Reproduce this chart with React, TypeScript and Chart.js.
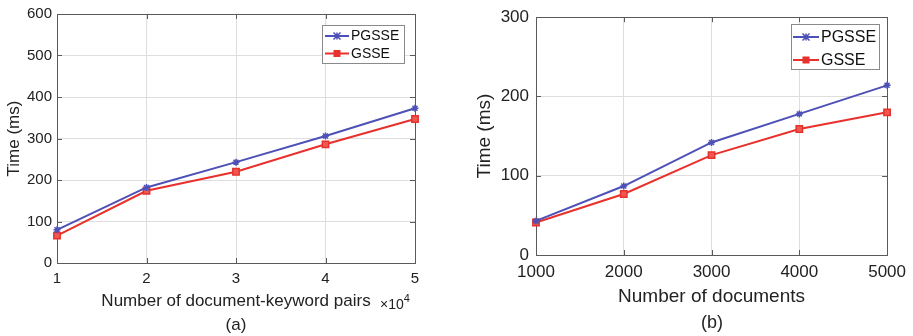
import React, { useEffect, useRef } from "react";
import { Chart, registerables } from "chart.js";

Chart.register(...registerables);

const FONT = "'Liberation Sans', Arial, Helvetica, sans-serif";

// ---- Data: panel (a)
const pairsX = [1, 2, 3, 4, 5]; // ×10^4 document-keyword pairs
const pgsseA = [80, 182, 243, 306, 373];
const gsseA = [66, 174, 220, 286, 347];

// ---- Data: panel (b)
const docsX = [1000, 2000, 3000, 4000, 5000];
const pgsseB = [43, 87, 142, 178, 214];
const gsseB = [41, 77, 126, 159, 180];

const seriesNames = ["PGSSE", "GSSE"];
const BLUE = "#4d50b6";
const RED = "#e8302c";
const AXIS = "#5a5a5a";
const GRID = "#dedede";
const TEXT = "#222222";

const framePlugin = {
  id: "frame",
  beforeDatasetsDraw(chart: any) {
    const { ctx, chartArea: a, scales } = chart;
    ctx.save();
    ctx.strokeStyle = AXIS;
    ctx.lineWidth = 1;
    ctx.strokeRect(Math.round(a.left) + 0.5, Math.round(a.top) + 0.5, Math.round(a.right - a.left), Math.round(a.bottom - a.top));
    const L = 5;
    ctx.beginPath();
    scales.x.ticks.forEach((t: any) => {
      const p = Math.round(scales.x.getPixelForValue(t.value)) + 0.5;
      ctx.moveTo(p, a.bottom);
      ctx.lineTo(p, a.bottom - L);
      ctx.moveTo(p, a.top);
      ctx.lineTo(p, a.top + L);
    });
    scales.y.ticks.forEach((t: any) => {
      const p = Math.round(scales.y.getPixelForValue(t.value)) + 0.5;
      ctx.moveTo(a.left, p);
      ctx.lineTo(a.left + L, p);
      ctx.moveTo(a.right, p);
      ctx.lineTo(a.right - L, p);
    });
    ctx.stroke();
    ctx.restore();
  },
};

const boxLegendPlugin = {
  id: "boxLegend",
  afterDatasetsDraw(chart: any, _args: any, o: any) {
    if (!o || !o.w) return;
    const { ctx } = chart;
    ctx.save();
    ctx.fillStyle = "#ffffff";
    ctx.fillRect(o.x, o.y, o.w, o.h);
    ctx.strokeStyle = "#8a8a8a";
    ctx.lineWidth = 1;
    ctx.strokeRect(o.x + 0.5, o.y + 0.5, o.w, o.h);
    chart.data.datasets.forEach((ds: any, i: number) => {
      const cy = o.y + o.row0 + i * o.rowH;
      const x0 = o.x + o.padL;
      const x1 = x0 + o.sampleW;
      ctx.strokeStyle = ds.borderColor;
      ctx.lineWidth = 2;
      ctx.beginPath();
      ctx.moveTo(x0, cy);
      ctx.lineTo(x1, cy);
      ctx.stroke();
      const cx = (x0 + x1) / 2;
      if (ds.pointStyle === "rect") {
        ctx.fillStyle = ds.borderColor;
        ctx.fillRect(cx - 3.5, cy - 3.5, 7, 7);
      } else {
        const r = 3.5;
        ctx.lineWidth = 1.5;
        ctx.beginPath();
        ctx.moveTo(cx - r, cy - r); ctx.lineTo(cx + r, cy + r);
        ctx.moveTo(cx - r, cy + r); ctx.lineTo(cx + r, cy - r);
        ctx.moveTo(cx - r, cy); ctx.lineTo(cx + r, cy);
        ctx.moveTo(cx, cy - r); ctx.lineTo(cx, cy + r);
        ctx.stroke();
      }
      ctx.fillStyle = "#111";
      ctx.font = `${o.fontSize}px ${FONT}`;
      ctx.textBaseline = "middle";
      ctx.textAlign = "left";
      ctx.fillText(ds.label, o.x + o.textX, cy + 0.5);
    });
    ctx.restore();
  },
};

type PanelCfg = {
  xs: number[];
  a: number[];
  b: number[];
  xMin: number;
  xMax: number;
  xStep: number;
  yMax: number;
  yStep: number;
  xTitle: string;
  yTitle: string;
  width: number;
  height: number;
  padTop: number;
  padRight: number;
  yWidth: number;
  xHeight: number;
  tickFont: number;
  titleFont: number;
  yTickPad: number;
  xTickPad: number;
  xTitlePad: number;
  yTitlePad: number;
  legend: any;
};

function makeConfig(c: PanelCfg): any {
  const mk = (name: string, ys: number[], color: string, style: string, fill: string, r: number) => ({
    label: name,
    data: c.xs.map((x, i) => ({ x, y: ys[i] })),
    borderColor: color,
    backgroundColor: fill,
    borderWidth: 2,
    pointStyle: style,
    pointRadius: r,
    pointBorderWidth: 1.5,
    pointBorderColor: color,
    pointBackgroundColor: fill,
    tension: 0,
    clip: false,
  });
  return {
    type: "line",
    data: {
      datasets: [
        mk(seriesNames[0], c.a, BLUE, "star", BLUE, 3.5),
        mk(seriesNames[1], c.b, RED, "rect", "#ee5a52", 4.5),
      ],
    },
    options: {
      animation: false,
      responsive: false,
      events: [],
      layout: { padding: { top: c.padTop, right: c.padRight, left: 0, bottom: 0 } },
      plugins: {
        legend: { display: false },
        tooltip: { enabled: false },
        boxLegend: c.legend,
      },
      scales: {
        x: {
          type: "linear",
          min: c.xMin,
          max: c.xMax,
          afterFit: (s: any) => { s.height = c.xHeight; },
          ticks: {
            stepSize: c.xStep,
            padding: c.xTickPad,
            color: TEXT,
            font: { family: FONT, size: c.tickFont },
            maxRotation: 0,
            callback: (v: any) => String(v),
          },
          grid: { color: GRID, drawTicks: false, lineWidth: 1 },
          border: { display: false },
          title: {
            display: true,
            text: c.xTitle,
            color: TEXT,
            font: { family: FONT, size: c.titleFont },
            padding: { top: 0, bottom: c.xTitlePad },
          },
        },
        y: {
          min: 0,
          max: c.yMax,
          afterFit: (s: any) => { s.width = c.yWidth; },
          ticks: {
            stepSize: c.yStep,
            padding: c.yTickPad,
            color: TEXT,
            font: { family: FONT, size: c.tickFont },
            callback: (v: any) => String(v),
          },
          grid: { color: GRID, drawTicks: false, lineWidth: 1 },
          border: { display: false },
          title: {
            display: true,
            text: c.yTitle,
            color: TEXT,
            font: { family: FONT, size: c.titleFont },
            padding: { top: c.yTitlePad, bottom: 0 },
          },
        },
      },
    },
    plugins: [framePlugin, boxLegendPlugin],
  };
}

function Panel({ cfg, style }: { cfg: PanelCfg; style: React.CSSProperties }) {
  const ref = useRef<HTMLCanvasElement | null>(null);
  useEffect(() => {
    if (!ref.current) return;
    const chart = new Chart(ref.current, makeConfig(cfg));
    return () => chart.destroy();
  }, []);
  return <canvas ref={ref} width={cfg.width} height={cfg.height} style={{ position: "absolute", ...style }} />;
}

const cfgA: PanelCfg = {
  xs: pairsX, a: pgsseA, b: gsseA,
  xMin: 1, xMax: 5, xStep: 1, yMax: 600, yStep: 100,
  xTitle: "Number of document-keyword pairs", yTitle: "Time (ms)",
  width: 450, height: 336, padTop: 14, padRight: 35, yWidth: 57, xHeight: 73,
  tickFont: 15, titleFont: 17, yTickPad: 5, xTickPad: 7, xTitlePad: 24, yTitlePad: 4,
  legend: { x: 322, y: 25, w: 82, h: 38, row0: 11, rowH: 17.5, padL: 3, sampleW: 24, textX: 29, fontSize: 14 },
};

const cfgB: PanelCfg = {
  xs: docsX, a: pgsseB, b: gsseB,
  xMin: 1000, xMax: 5000, xStep: 1000, yMax: 300, yStep: 100,
  xTitle: "Number of documents", yTitle: "Time (ms)",
  width: 443, height: 336, padTop: 14, padRight: 24, yWidth: 66, xHeight: 81,
  tickFont: 17, titleFont: 19, yTickPad: 7, xTickPad: 7, xTitlePad: 28, yTitlePad: 3.5,
  legend: { x: 321, y: 24, w: 88, h: 45, row0: 13, rowH: 23, padL: 2, sampleW: 26, textX: 30, fontSize: 16 },
};

export default function App() {
  return (
    <div style={{ position: "fixed", left: 0, top: 0, width: 913, height: 336, background: "#fff", overflow: "hidden", fontFamily: FONT }}>
      <Panel cfg={cfgA} style={{ left: 0, top: 0 }} />
      <Panel cfg={cfgB} style={{ left: 470, top: 0 }} />
      <div style={{ position: "absolute", left: 380, top: 291, fontSize: 14, color: TEXT, lineHeight: "16px", whiteSpace: "nowrap" }}>
        ×10<sup style={{ fontSize: 11, position: "relative", top: -1 }}>4</sup>
      </div>
      <div style={{ position: "absolute", left: 216, width: 40, top: 315, fontSize: 17, color: TEXT, textAlign: "center", lineHeight: "20px" }}>(a)</div>
      <div style={{ position: "absolute", left: 692, width: 40, top: 312, fontSize: 18, color: TEXT, textAlign: "center", lineHeight: "21px" }}>(b)</div>
    </div>
  );
}
